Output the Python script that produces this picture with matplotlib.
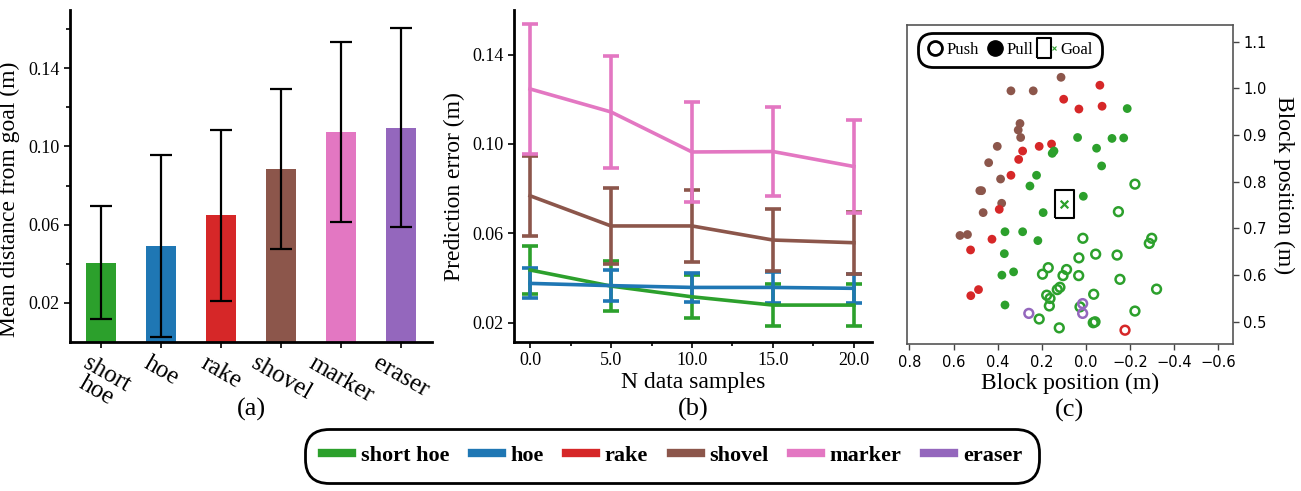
import matplotlib
matplotlib.use('Agg')
import matplotlib.pyplot as plt
from matplotlib.lines import Line2D
from matplotlib.legend_handler import HandlerTuple

#tool names and colours
tools = ['short hoe', 'hoe', 'rake', 'shovel', 'marker', 'eraser']
tick_names = ['short\nhoe', 'hoe', 'rake', 'shovel', 'marker', 'eraser']
colors = {'short hoe': '#2ca02c', 'hoe': '#1f77b4', 'rake': '#d62728',
          'shovel': '#8c564b', 'marker': '#e377c2', 'eraser': '#9467bd'}

#(a) mean distance from goal
dist_mean = [0.0405, 0.049, 0.0647, 0.0884, 0.1073, 0.1097]
dist_err = [0.029, 0.0467, 0.044, 0.041, 0.046, 0.051]

#(b) prediction error vs number of samples
n_samples = [0, 5, 10, 15, 20]
pred_tools = ['short hoe', 'hoe', 'shovel', 'marker']
pred_mean = {
    'short hoe': [0.0436, 0.0364, 0.0316, 0.0279, 0.0279],
    'hoe': [0.0376, 0.0366, 0.0358, 0.0358, 0.0354],
    'shovel': [0.0768, 0.0633, 0.0633, 0.0570, 0.0558],
    'marker': [0.1246, 0.1143, 0.0964, 0.0966, 0.0899],
}
pred_err = {
    'short hoe': [0.0106, 0.0110, 0.0097, 0.0093, 0.0095],
    'hoe': [0.0067, 0.0070, 0.0064, 0.0070, 0.0066],
    'shovel': [0.0180, 0.0170, 0.0160, 0.0138, 0.0139],
    'marker': [0.0290, 0.0250, 0.0223, 0.0200, 0.0206],
}

#(c) block positions
pull_x = [0.113, 0.340, 0.239, 0.299, 0.307, 0.296, 0.402, 0.441, 0.387, 0.481, 0.473, 0.382, 0.466, 0.571, 0.537,
          -0.063, 0.101, 0.032, -0.073, 0.212, 0.156, 0.287, 0.305, 0.340, 0.393, 0.426, 0.523, 0.487, 0.522,
          -0.187, 0.038, -0.118, -0.171, -0.048, 0.145, 0.153, -0.071, 0.224, 0.254, 0.012, 0.194, 0.367, 0.287,
          0.218, 0.370, 0.381, 0.328, 0.367]
pull_y = [1.024, 0.995, 0.995, 0.925, 0.911, 0.895, 0.876, 0.841, 0.806, 0.781, 0.781, 0.754, 0.734, 0.685, 0.687,
          1.007, 0.977, 0.956, 0.962, 0.876, 0.881, 0.866, 0.848, 0.814, 0.741, 0.677, 0.654, 0.569, 0.556,
          0.957, 0.895, 0.893, 0.894, 0.872, 0.866, 0.861, 0.834, 0.814, 0.791, 0.769, 0.734, 0.693, 0.693,
          0.674, 0.646, 0.600, 0.607, 0.536]
pull_tool = ['shovel'] * 15 + ['rake'] * 14 + ['short hoe'] * 19

push_x = [-0.177,
          -0.222, -0.147, 0.014, -0.287, -0.298, 0.032, -0.044, -0.141, 0.171, 0.197, 0.088, 0.104, 0.033, -0.154,
          -0.320, 0.118, 0.130, 0.178, 0.163, -0.035, 0.166, 0.027, -0.222, 0.212, -0.033, -0.041, 0.121,
          0.259, 0.015, 0.015]
push_y = [0.482,
          0.795, 0.736, 0.679, 0.668, 0.679, 0.637, 0.645, 0.643, 0.616, 0.602, 0.612, 0.599, 0.599, 0.591,
          0.570, 0.574, 0.569, 0.557, 0.550, 0.559, 0.534, 0.532, 0.523, 0.506, 0.498, 0.500, 0.487,
          0.518, 0.539, 0.518]
push_tool = ['rake'] + ['short hoe'] * 27 + ['eraser'] * 3

goal_x = [0.098]
goal_y = [0.752]

serif = 'Liberation Serif'
plt.rcParams['font.family'] = serif

fig = plt.figure(figsize=(13.01, 4.91), dpi=100)
ax1 = fig.add_axes([0.054, 0.304, 0.278, 0.676])
ax2 = fig.add_axes([0.395, 0.304, 0.275, 0.676])
ax3 = fig.add_axes([0.697, 0.299, 0.2505, 0.650])

for ax in (ax1, ax2):
    ax.spines['top'].set_visible(False)
    ax.spines['right'].set_visible(False)
    ax.spines['left'].set_linewidth(2)
    ax.spines['bottom'].set_linewidth(2)
    ax.tick_params(axis='both', which='major', labelsize=13, width=1.2, length=4)
    ax.tick_params(axis='both', which='minor', width=1.2, length=3)

#(a) bar chart
pos = list(range(len(tools)))
ax1.bar(pos, dist_mean, width=0.5, color=[colors[t] for t in tools],
        yerr=dist_err, capsize=8, error_kw=dict(ecolor='black', elinewidth=1.6, capthick=1.6))
ax1.set_xlim(-0.52, 5.52)
ax1.set_ylim(0, 0.17)
ax1.set_xticks(pos)
ax1.set_xticklabels(tick_names, rotation=-30, ha='center', fontsize=18, linespacing=0.85)
ax1.set_yticks([0.02, 0.06, 0.10, 0.14])
ax1.set_yticks([0.04, 0.08, 0.12, 0.16], minor=True)
ax1.set_yticklabels(['0.02', '0.06', '0.10', '0.14'])
ax1.set_ylabel('Mean distance from goal (m)', fontsize=17)
ax1.yaxis.set_label_coords(-0.138, 0.43)
ax1.text(0.5, -0.17, '(a)', transform=ax1.transAxes, ha='center', va='top', fontsize=19)

#(b) line chart with error bars
for t in pred_tools:
    ax2.errorbar(n_samples, pred_mean[t], yerr=pred_err[t], color=colors[t], lw=2.6,
                 elinewidth=2.6, capsize=6, capthick=2.6)
ax2.set_xlim(-1, 21.1)
ax2.set_ylim(0.0115, 0.160)
ax2.set_xticks(n_samples)
ax2.set_xticklabels(['0.0', '5.0', '10.0', '15.0', '20.0'])
ax2.set_xticks([2.5, 7.5, 12.5, 17.5], minor=True)
ax2.set_yticks([0.02, 0.06, 0.10, 0.14])
ax2.set_yticklabels(['0.02', '0.06', '0.10', '0.14'])
ax2.set_xlabel('N data samples', fontsize=17, labelpad=2)
ax2.set_ylabel('Prediction error (m)', fontsize=17)
ax2.yaxis.set_label_coords(-0.137, 0.467)
ax2.text(0.5, -0.17, '(b)', transform=ax2.transAxes, ha='center', va='top', fontsize=19)

#(c) scatter of block positions
ax3.scatter(pull_x, pull_y, s=40, c=[colors[t] for t in pull_tool], edgecolors='none', zorder=3)
ax3.scatter(push_x, push_y, s=40, facecolors='none', edgecolors=[colors[t] for t in push_tool],
            linewidths=1.8, zorder=3)
box_marker = [(-1, -1.45), (1, -1.45), (1, 1.45), (-1, 1.45), (-1, -1.45)]
ax3.scatter(goal_x, goal_y, s=420, marker=box_marker, facecolors='none', edgecolors='black',
            linewidths=1.5, zorder=2)
ax3.scatter(goal_x, goal_y, s=30, marker='x', c='#2ca02c', linewidths=1.6, zorder=4)
ax3.set_xlim(0.812, -0.665)
ax3.set_ylim(0.452, 1.136)
ax3.set_xticks([0.8, 0.6, 0.4, 0.2, 0.0, -0.2, -0.4, -0.6])
ax3.set_yticks([0.5, 0.6, 0.7, 0.8, 0.9, 1.0, 1.1])
ax3.yaxis.tick_right()
ax3.yaxis.set_label_position('right')
for lab in ax3.get_xticklabels() + ax3.get_yticklabels():
    lab.set_family('DejaVu Sans')
ax3.tick_params(axis='both', labelsize=10.5, width=1, length=4, color='#444444')
for sp in ax3.spines.values():
    sp.set_color('#555555')
    sp.set_linewidth(1.2)
ax3.set_xlabel('Block position (m)', fontsize=17, labelpad=2)
ax3.set_ylabel('Block position (m)', fontsize=17, rotation=-90, labelpad=20)
ax3.text(0.5, -0.17, '(c)', transform=ax3.transAxes, ha='center', va='top', fontsize=19)

push_h = Line2D([], [], ls='none', marker='o', ms=10, mfc='white', mec='black', mew=2)
pull_h = Line2D([], [], ls='none', marker='o', ms=11, mfc='black', mec='black')
goal_box = Line2D([], [], ls='none', marker=box_marker, ms=15, mfc='none', mec='black', mew=1.5)
goal_x_h = Line2D([], [], ls='none', marker='x', ms=3, mec='#2ca02c', mew=0.8)
leg3 = ax3.legend([push_h, pull_h, (goal_box, goal_x_h)], ['Push', 'Pull', 'Goal'],
                  handler_map={tuple: HandlerTuple(ndivide=None)},
                  loc='upper left', bbox_to_anchor=(0.025, 0.985), ncol=3, fontsize=12,
                  handlelength=0.9, handletextpad=0.25, columnspacing=0.5, borderpad=0.25,
                  fancybox=True, framealpha=1)
leg3.get_frame().set_edgecolor('black')
leg3.get_frame().set_linewidth(2)
leg3.get_frame().set_boxstyle('round', pad=0.3, rounding_size=0.9)

#bottom legend for tools
handles = [Line2D([], [], color=colors[t], lw=6) for t in tools]
leg = fig.legend(handles, tools, loc='lower center', bbox_to_anchor=(0.5165, 0.008), ncol=6,
                 prop={'family': serif, 'weight': 'bold', 'size': 16},
                 handlelength=1.35, handletextpad=0.4, columnspacing=1.0, borderpad=0.45,
                 fancybox=True, framealpha=1)
leg.get_frame().set_edgecolor('black')
leg.get_frame().set_linewidth(2)
leg.get_frame().set_boxstyle('round', pad=0.3, rounding_size=1.05)

fig.savefig('out.png', dpi=100)
